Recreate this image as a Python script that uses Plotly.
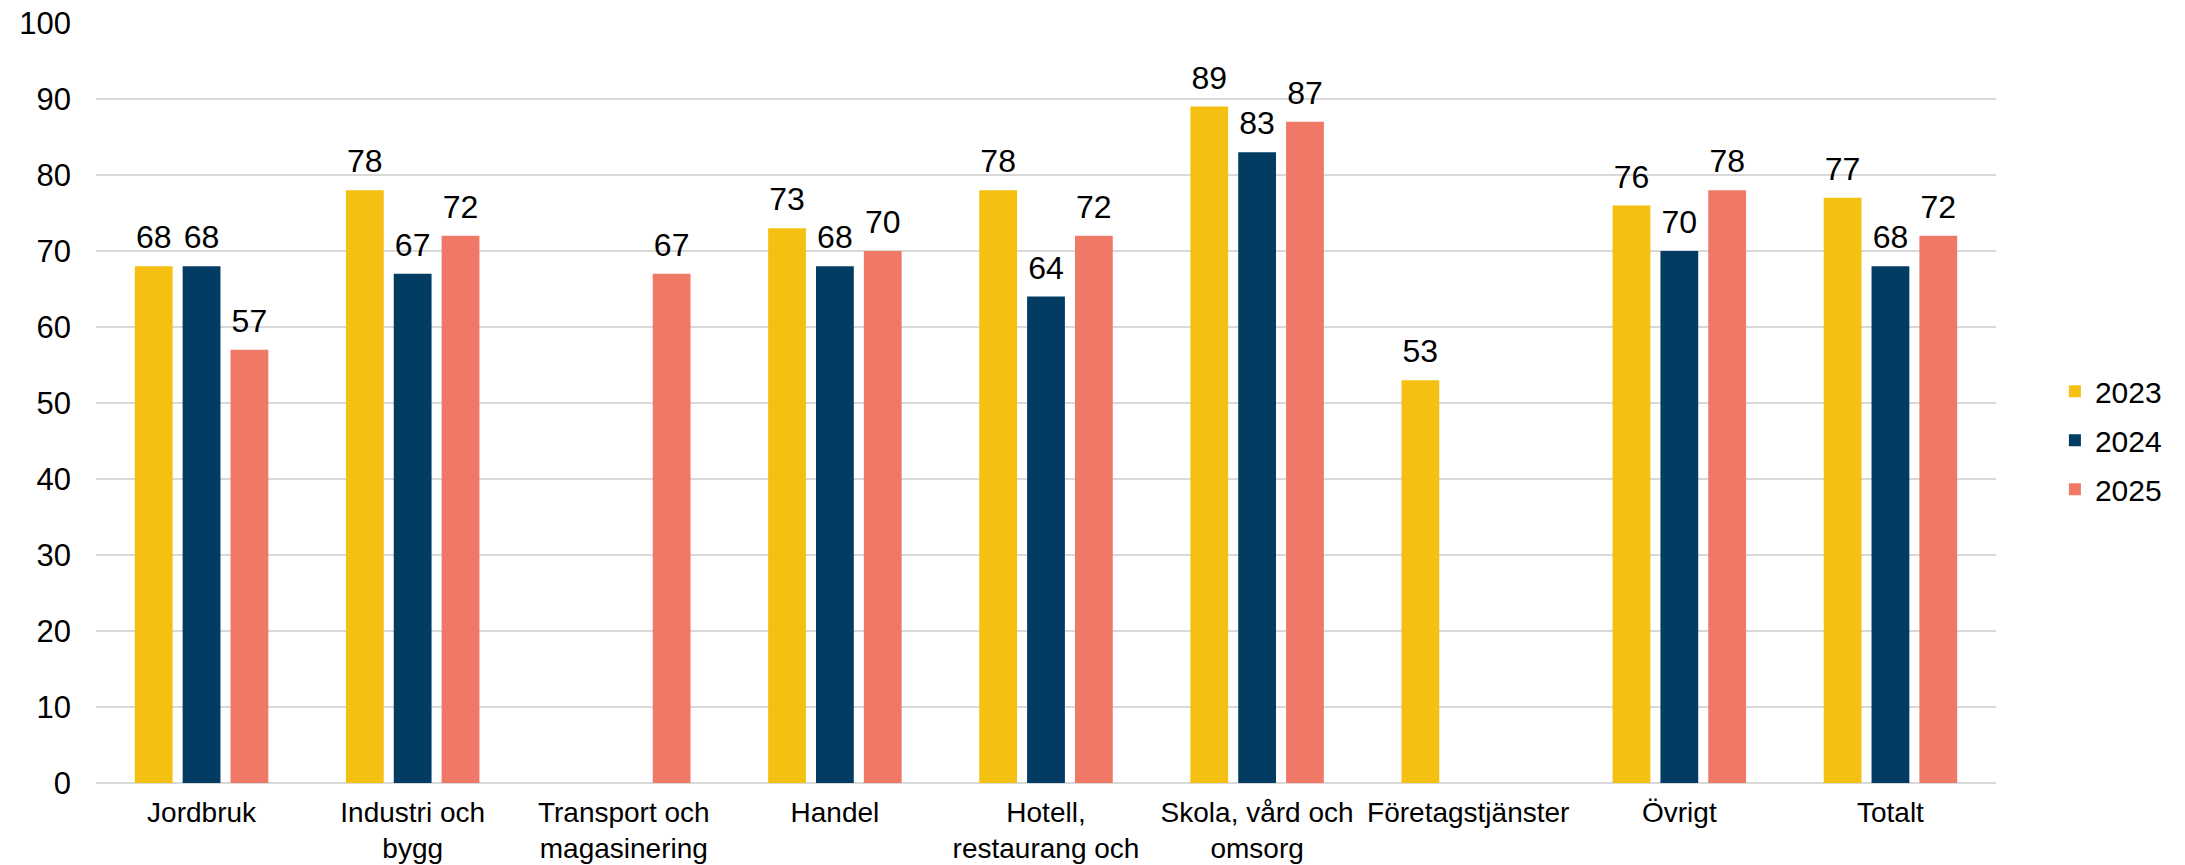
import plotly.graph_objects as go

# Share of respondents per sector and year
categories = [
    "Jordbruk",
    "Industri och<br>bygg",
    "Transport och<br>magasinering",
    "Handel",
    "Hotell,<br>restaurang och",
    "Skola, vård och<br>omsorg",
    "Företagstjänster",
    "Övrigt",
    "Totalt",
]

years = ["2023", "2024", "2025"]
values_2023 = [68, 78, None, 73, 78, 89, 53, 76, 77]
values_2024 = [68, 67, None, 68, 64, 83, None, 70, 68]
values_2025 = [57, 72, 67, 70, 72, 87, None, 78, 72]
colors = ["#F4C113", "#023C63", "#F07867"]

series = [values_2023, values_2024, values_2025]

FONT = "Liberation Sans, Arial, sans-serif"

fig = go.Figure()

for name, vals, col in zip(years, series, colors):
    fig.add_trace(go.Bar(
        x=categories, y=vals, name=name,
        marker=dict(color=col, line=dict(width=0)),
        legendgroup=name,
    ))

# Value labels, placed above each bar via grouped scatter points
for name, vals in zip(years, series):
    fig.add_trace(go.Scatter(
        x=categories, y=vals, mode="markers+text",
        text=[("" if v is None else str(v)) for v in vals],
        textposition="top center",
        textfont=dict(family=FONT, size=32, color="#000000"),
        marker=dict(size=14, opacity=0),
        showlegend=False, hoverinfo="skip",
        legendgroup=name,
    ))

fig.update_layout(
    width=2185, height=865,
    margin=dict(l=96, r=189, t=23, b=82),
    paper_bgcolor="white", plot_bgcolor="white",
    barmode="group", bargap=0.32, bargroupgap=0.21,
    scattermode="group", scattergap=0.32,
    font=dict(family=FONT, size=28, color="#000000"),
    showlegend=True,
    legend=dict(
        x=1.031, xanchor="left", y=0.451, yanchor="middle",
        font=dict(family=FONT, size=30, color="#000000"),
        traceorder="grouped", tracegroupgap=7,
        bgcolor="rgba(0,0,0,0)",
    ),
)

fig.update_yaxes(
    range=[0, 100], dtick=10, tick0=0,
    showgrid=True, gridcolor="#D9D9D9", gridwidth=2,
    zeroline=True, zerolinecolor="#D9D9D9", zerolinewidth=2,
    showline=False, ticks="",
    tickfont=dict(family=FONT, size=31, color="#000000"),
    ticklabelstandoff=24,
    automargin=False,
    fixedrange=True,
)

fig.update_xaxes(
    type="category",
    showgrid=False, showline=False, ticks="",
    tickfont=dict(family=FONT, size=28, color="#000000"),
    ticklabelstandoff=10,
    tickangle=0,
    automargin=False,
    fixedrange=True,
)

fig.write_html("out.html", config={"displayModeBar": False})
